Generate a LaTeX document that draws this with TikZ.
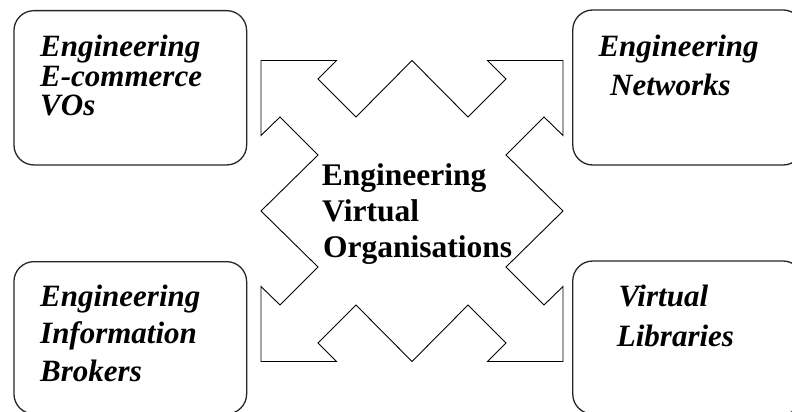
\documentclass[tikz,border=0pt]{standalone}
\usepackage{fontspec}
\setmainfont{Liberation Serif}
\begin{document}
\begin{tikzpicture}[x=1pt,y=-1pt,
  areabox/.style={draw=black!85, line width=1.3pt, rounded corners=20pt,
    rectangle, inner sep=0pt},
  boxtext/.style={inner sep=0pt, anchor=base west,
    font=\fontsize{31}{33}\selectfont\bfseries\itshape},
  hubtext/.style={inner sep=0pt, anchor=base west,
    font=\fontsize{31.5}{33}\selectfont\bfseries},
  hubline/.style={draw=black, line width=0.9pt, line join=miter}]
\useasboundingbox (0,0) rectangle (792,412);
\clip (0,0) rectangle (792,412);

% four outer boxes
\node[areabox, minimum width=232.7pt, minimum height=154.3pt] (ecom) at (130.3,87.8) {};
\node[areabox, minimum width=230.3pt, minimum height=155pt]   (netw) at (687.9,87.5) {};
\node[areabox, minimum width=232.7pt, minimum height=152.3pt] (brok) at (130.3,337.8) {};
\node[areabox, minimum width=230.3pt, minimum height=153pt]   (libr) at (687.9,337.5) {};

% central zig-zag square with four corner arrows
\draw[hubline, shift={(412,211)}]
  (-151,-150.5) -- (-75.5,-150.5) -- (-94,-132) -- (-56,-94) -- (0,-150.5)
  -- (56,-94) -- (94,-132) -- (75.5,-150.5) -- (151,-150.5)
  -- (151,-75.5) -- (132,-94) -- (94,-56) -- (151,0)
  -- (94,56) -- (132,94) -- (151,75.5) -- (151,150.5)
  -- (75.5,150.5) -- (94,132) -- (56,94) -- (0,150.5)
  -- (-56,94) -- (-94,132) -- (-75.5,150.5) -- (-151,150.5)
  -- (-151,75.5) -- (-132,94) -- (-94,56) -- (-151,0)
  -- (-94,-56) -- (-132,-94) -- (-151,-75.5) -- cycle;

% central label
\node[hubtext] (hub1) at (321.7,185)   {Engineering};
\node[hubtext] (hub2) at (322,221.7)   {Virtual};
\node[hubtext] (hub3) at (323,257.3)   {Organisations};

% box labels
\node[boxtext] (ecom1) at (40,56.7)  {Engineering};
\node[boxtext] (ecom2) at (40,86)    {E-commerce};
\node[boxtext] (ecom3) at (40,115)   {VOs};

\node[boxtext] (netw1) at (598.3,56.7) {Engineering};
\node[boxtext] (netw2) at (610,95)     {Networks};

\node[boxtext] (brok1) at (40,306.7) {Engineering};
\node[boxtext] (brok2) at (40,343.3) {Information};
\node[boxtext] (brok3) at (40,381.7) {Brokers};

\node[boxtext] (libr1) at (618.3,306.7) {Virtual};
\node[boxtext] (libr2) at (616.7,346)   {Libraries};
\end{tikzpicture}
\end{document}
